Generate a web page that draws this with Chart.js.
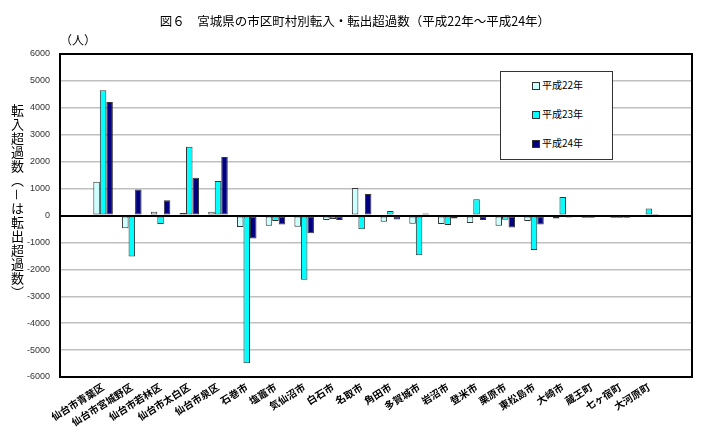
<!DOCTYPE html>
<html>
<head>
<meta charset="utf-8">
<script src="https://cdn.jsdelivr.net/npm/chart.js@4"></script>
<style>
  body { margin: 0; background: #fff; }
  #wrap { position: relative; width: 710px; height: 437px; font-family: "Noto Sans CJK JP", sans-serif; color: #000; }
  #c { position: absolute; left: 0; top: 0; }
  #title { position: absolute; left: 0; top: 11px; width: 710px; text-align: center; font-size: 12.5px; }
  #unit { position: absolute; left: 60px; top: 31px; font-size: 12px; }
  #ytitle { position: absolute; left: 8px; top: 104px; writing-mode: vertical-rl; font-size: 13px; letter-spacing: 1px; }
  #legend { position: absolute; left: 500px; top: 71px; width: 113px; height: 89px; border: 1px solid #333; background: #fff; box-sizing: border-box; }
  .item { position: absolute; left: 31px; font-size: 10px; line-height: 12px; }
  .box { display: inline-block; width: 6px; height: 6px; border: 1px solid #333; margin-right: 2px; vertical-align: -1px; }
</style>
</head>
<body>
<div id="wrap">
  <canvas id="c" width="710" height="437"></canvas>
  <div id="title">図６　宮城県の市区町村別転入・転出超過数（平成22年～平成24年）</div>
  <div id="unit">（人）</div>
  <div id="ytitle">転入超過数（－は転出超過数）</div>
  <div id="legend"></div>
</div>
<script>
// 市区町村
let cities = ['仙台市青葉区', '仙台市宮城野区', '仙台市若林区', '仙台市太白区', '仙台市泉区', '石巻市', '塩竈市', '気仙沼市', '白石市', '名取市',
  '角田市', '多賀城市', '岩沼市', '登米市', '栗原市', '東松島市', '大崎市', '蔵王町', '七ヶ宿町', '大河原町'];

// 転入・転出超過数 (人)
let h22 = [1250, -470, 140, 90, 140, -430, -380, -420, -170, 1020, -235, -310, -320, -280, -380, -200, -110, -80, -80, -50];
let h23 = [4650, -1520, -320, 2550, 1280, -5490, -200, -2390, -130, -510, 165, -1475, -355, 600, -160, -1280, 685, -80, -80, 260];
let h24 = [4220, 970, 570, 1400, 2170, -855, -330, -655, -170, 795, -150, 75, -115, -170, -445, -335, -75, -40, -80, 60];

let series_names = ['平成22年', '平成23年', '平成24年'];
let color_list = ['#CCFFFF', '#00FFFF', '#000080'];

// y軸目盛
let y_min = -6000;
let y_max = 6000;
let y_step = 1000;

// 左右に空の項目をひとつずつ入れて余白をつくる
let labels = [''].concat(cities, ['']);
function pad(arr) { return [null].concat(arr, [null]); }

let all_data = [h22, h23, h24];
let my_datasets = [];
for (let i = 0; i < all_data.length; i++) {
  my_datasets[i] = {
    label: series_names[i],
    data: pad(all_data[i]),
    backgroundColor: color_list[i],
    borderColor: '#333333',
    borderWidth: 1,
    borderSkipped: false,
    barPercentage: 1,
    categoryPercentage: 0.68
  };
}

// 枠線
const frame = {
  id: 'frame',
  afterDraw(chart) {
    const a = chart.chartArea, ctx = chart.ctx;
    ctx.save();
    ctx.strokeStyle = '#000';
    ctx.lineWidth = 2;
    ctx.strokeRect(a.left, a.top, a.right - a.left, a.bottom - a.top);
    ctx.restore();
  }
};

let myChart = new Chart(document.getElementById('c').getContext('2d'), {
  type: 'bar',
  data: { labels: labels, datasets: my_datasets },
  plugins: [frame],
  options: {
    responsive: false,
    animation: false,
    devicePixelRatio: 1,
    layout: { padding: { left: 0, right: 18, top: 54, bottom: 0 } },
    plugins: { legend: { display: false }, title: { display: false }, tooltip: { enabled: false } },
    scales: {
      x: {
        grid: { display: false, drawTicks: false },
        border: { color: '#000', width: 2 },
        afterFit: function(scale) { scale.height = 60; },
        ticks: {
          autoSkip: false,
          minRotation: 32,
          maxRotation: 32,
          padding: 4,
          color: '#000',
          font: { family: '"Noto Sans CJK JP"', size: 10, weight: 'bold' }
        }
      },
      y: {
        min: y_min,
        max: y_max,
        afterFit: function(scale) { scale.width = 60; },
        border: { color: '#000', width: 2 },
        grid: {
          drawTicks: false,
          color: function(ctx) { return ctx.tick && ctx.tick.value === 0 ? '#000' : '#c0c0c0'; },
          lineWidth: function(ctx) { return ctx.tick && ctx.tick.value === 0 ? 2 : 1.5; }
        },
        ticks: {
          stepSize: y_step,
          padding: 10,
          color: '#333',
          font: { family: '"Liberation Sans"', size: 9 },
          callback: function(value) { return String(value); }
        }
      }
    }
  }
});

// 凡例
let legend = document.getElementById('legend');
myChart.data.datasets.forEach(function(ds, i) {
  let div = document.createElement('div');
  div.className = 'item';
  div.style.top = (7 + i * 29) + 'px';
  div.innerHTML = '<span class="box" style="background:' + ds.backgroundColor + '"></span>' + ds.label;
  legend.appendChild(div);
});
</script>
</body>
</html>
